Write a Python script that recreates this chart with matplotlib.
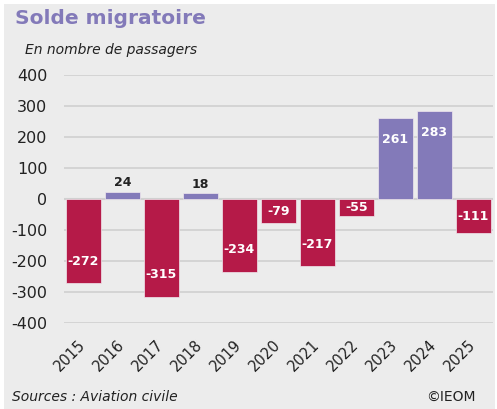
import matplotlib
matplotlib.use("Agg")
import matplotlib.pyplot as plt
from matplotlib.patches import Rectangle

years = ["2015", "2016", "2017", "2018", "2019", "2020", "2021", "2022", "2023", "2024", "2025"]
values = [-272, 24, -315, 18, -234, -79, -217, -55, 261, 283, -111]
yticks = [400, 300, 200, 100, 0, -100, -200, -300, -400]

POS = "#837ab9"
NEG = "#b51a48"
BG = "#ececec"
GRID = "#d0d0d0"

W, H = 497, 409
fig = plt.figure(figsize=(W / 100, H / 100), dpi=100)
fig.patch.set_facecolor("white")
fig.patches.append(Rectangle((4 / W, 0), (W - 6) / W, (H - 4) / H,
                             transform=fig.transFigure, facecolor=BG,
                             edgecolor="none", zorder=-10))

ax = fig.add_axes([64 / W, 1 - 323 / H, 429 / W, 248 / H])
ax.set_facecolor("none")
x = list(range(len(years)))
colors = [POS if v > 0 else NEG for v in values]
ax.bar(x, values, width=0.92, color=colors, edgecolor="#f0e8ee", linewidth=0.5, zorder=3)
ax.set_xlim(-0.5, len(years) - 0.5)
ax.set_ylim(-400, 400)
ax.set_yticks(yticks)
ax.set_yticklabels([str(t) for t in yticks], fontsize=11.5, color="#222222")
ax.set_xticks(x)
ax.set_xticklabels(years, rotation=45, ha="right", va="center", rotation_mode="anchor",
                   fontsize=10.5, color="#222222")
ax.tick_params(axis="both", length=0)
ax.tick_params(axis="y", pad=12)
ax.tick_params(axis="x", pad=14)
for s in ax.spines.values():
    s.set_visible(False)
for t in yticks:
    ax.axhline(t, color=GRID, linewidth=1.5 if t == 0 else 1.2, zorder=1)

for xi, v in zip(x, values):
    if abs(v) < 50:
        ax.text(xi, v + 8, str(v), ha="center", va="bottom", fontsize=9,
                fontweight="bold", color="#222222", zorder=4)
    else:
        if abs(v) >= 140:
            y = v - (70 if v > 0 else -70)
        else:
            y = v / 2
        ax.text(xi, y, str(v), ha="center", va="center", fontsize=9,
                fontweight="bold", color="white", zorder=4)

fig.text(15 / W, 1 - 18 / H, "Solde migratoire", fontsize=14.5, fontweight="heavy",
         color=POS, ha="left", va="center")
fig.text(25 / W, 1 - 50 / H, "En nombre de passagers", fontsize=10, style="italic",
         color="#222222", ha="left", va="center")
fig.text(12 / W, 1 - 397 / H, "Sources : Aviation civile", fontsize=10, style="italic",
         color="#222222", ha="left", va="center")
fig.text(476 / W, 1 - 397 / H, "©IEOM", fontsize=10, color="#222222",
         ha="right", va="center")

fig.savefig("out.png", dpi=100, facecolor=fig.get_facecolor())
